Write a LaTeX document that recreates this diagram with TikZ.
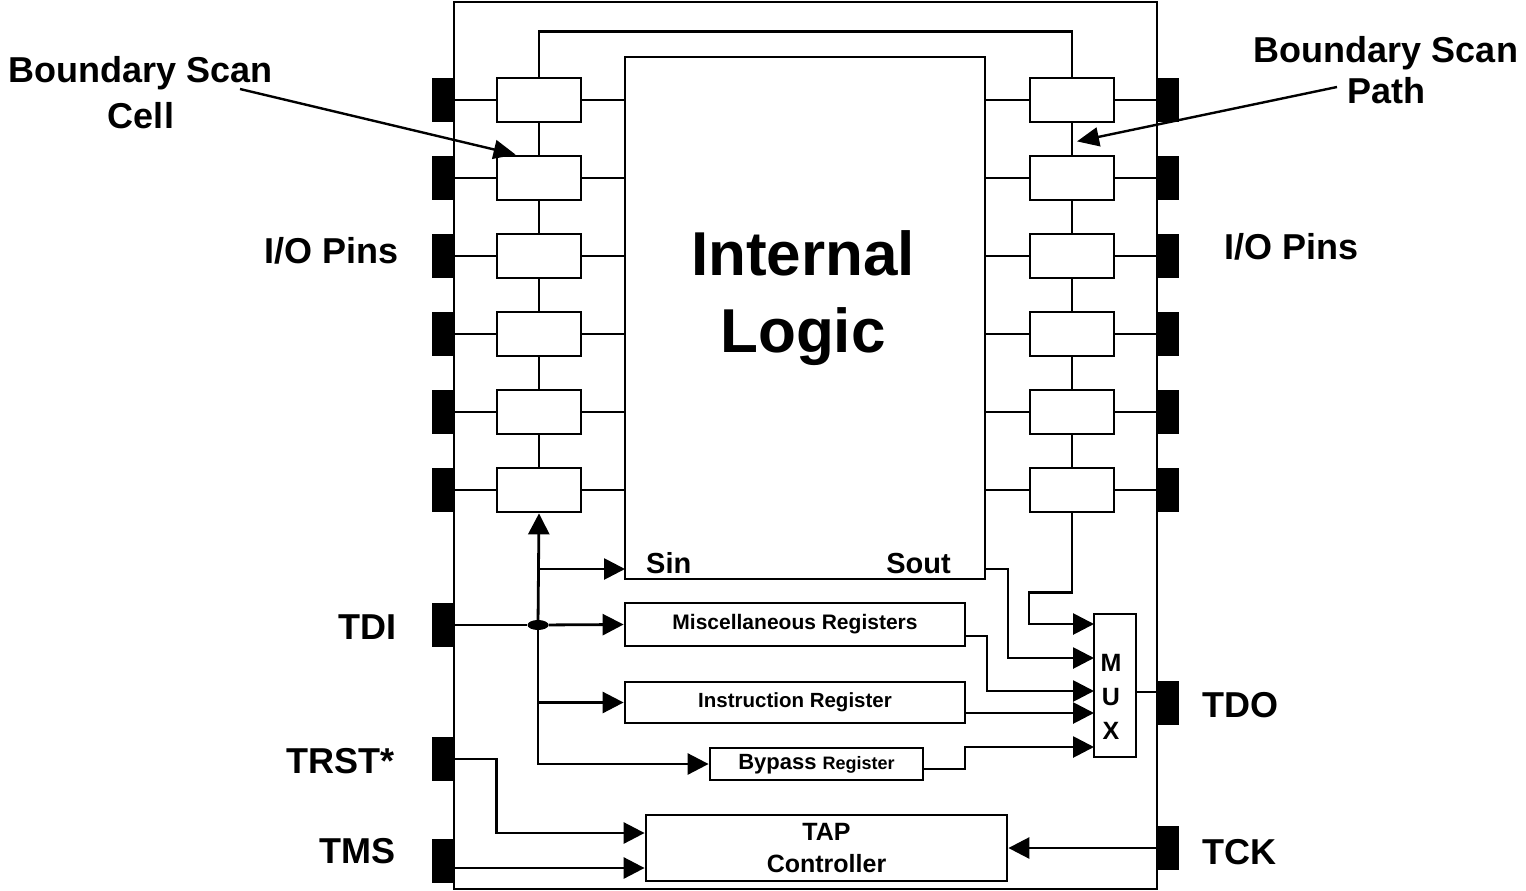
\documentclass[tikz,border=0pt]{standalone}
\usepackage{fontspec}
\setmainfont{Liberation Sans}
\usetikzlibrary{arrows.meta,shapes.geometric,calc}
\tikzset{
  wire/.style={line width=2.8pt},
  arr/.style={wire, -{Triangle[length=21pt,width=21pt]}},
  ptr/.style={line width=2.4pt, -{Triangle[length=22pt,width=19pt]}},
  box/.style={draw=black, line width=2.8pt, fill=white, inner sep=0pt, align=center, font=\bfseries},
  cell/.style={box, minimum width=84pt, minimum height=44pt},
  pin/.style={fill=black, minimum width=22pt, minimum height=44pt, inner sep=0pt},
  reg/.style={box, minimum height=42pt},
  lbl/.style={inner sep=0pt, font=\fontsize{36}{46}\selectfont\bfseries}
}
\begin{document}
\begin{tikzpicture}[x=1pt, y=-1pt]
  \useasboundingbox (0,0) rectangle (1526,891);
  % chip and internal logic
  \node[draw, line width=2.8pt, minimum width=703pt, minimum height=887pt, inner sep=0pt] (chip) at (805.5,445.5) {};
  \node[box, minimum width=360pt, minimum height=522pt] (logic) at (805,318) {};
  \node[inner sep=0pt, align=center, anchor=base, font=\fontsize{62}{77}\selectfont\bfseries] (logictxt) at (803,352) {Internal\\Logic};
  % boundary scan cells and I/O pins
  \foreach \i in {1,...,6}{
    \pgfmathsetmacro\yy{22+78*\i}
    \node[pin] (lp\i) at (443,\yy) {};
    \node[pin] (rp\i) at (1168,\yy) {};
    \node[cell] (lc\i) at (539,\yy) {};
    \node[cell] (rc\i) at (1072,\yy) {};
    \draw[wire] (lp\i.east) -- (lc\i.west);
    \draw[wire] (lc\i.east) -- (lc\i.east -| logic.west);
    \draw[wire] (rc\i.west -| logic.east) -- (rc\i.west);
    \draw[wire] (rc\i.east) -- (rp\i.west);
  }
  \foreach \i/\j in {1/2,2/3,3/4,4/5,5/6}{
    \draw[wire] (lc\i.south) -- (lc\j.north);
    \draw[wire] (rc\i.south) -- (rc\j.north);
  }
  \draw[wire] (lc1.north) -- ++(0,-45) -| (rc1.north);
  % test pins
  \node[pin] (tdi) at (443,625) {};
  \node[pin] (trst) at (443,759) {};
  \node[pin] (tms) at (443,861) {};
  \node[pin] (tdo) at (1168,702.5) {};
  \node[pin] (tck) at (1168,848) {};
  % registers, mux, tap
  \node[reg, minimum width=340pt, minimum height=43pt, font=\fontsize{21}{25}\selectfont\bfseries] (misc) at (795,624.5) {Miscellaneous Registers};
  \node[reg, minimum width=340pt, minimum height=41pt, font=\fontsize{20.5}{25}\selectfont\bfseries] (instr) at (795,702.5) {Instruction Register};
  \node[reg, minimum width=213pt, minimum height=32pt] (bypass) at (816.5,764) {{\fontsize{22}{26}\selectfont Bypass }{\fontsize{18}{22}\selectfont Register}};
  \node[reg, minimum width=361pt, minimum height=66pt, font=\fontsize{25}{32}\selectfont\bfseries] (tap) at (826.5,848) {TAP\\Controller};
  \node[box, minimum width=42pt, minimum height=143pt] (mux) at (1115,685.5) {};
  \node[inner sep=0pt, align=center, font=\fontsize{25}{34}\selectfont\bfseries] (muxlbl) at (1111,697) {M\\U\\X};
  \node[ellipse, fill=black, minimum width=21pt, minimum height=10pt, inner sep=0pt] (split) at (538,625) {};
  \coordinate (sin) at (625,569);
  \coordinate (sout) at (985,569);
  \coordinate (m1) at (1094,624);
  \coordinate (m2) at (1094,658);
  \coordinate (m3) at (1094,691);
  \coordinate (m4) at (1094,713);
  \coordinate (m5) at (1094,747);
  % TDI fan-out
  \draw[wire] (tdi.east) -- (split);
  \draw[arr] (split) -- (misc.west);
  \draw[arr] (split) -- (lc6.south);
  \draw[arr] (split |- sin) -- (sin);
  \draw[arr] (split |- instr.west) -- (instr.west);
  \draw[arr] (split) |- (bypass.west);
  % into the mux
  \draw[arr] (rc6.south) -- ++(0,79) -| ([xshift=-65pt]m1) -- (m1);
  \draw[arr] (sout) -| ([xshift=-86pt]m2) -- (m2);
  \draw[arr] ([yshift=-11.5pt]misc.east) -| ([xshift=-107pt]m3) -- (m3);
  \draw[arr] ([yshift=-10.5pt]instr.east) -- (m4);
  \draw[arr] ([yshift=-5pt]bypass.east) -| ([xshift=-129pt]m5) -- (m5);
  \draw[wire] ([yshift=-6.5pt]mux.east) -- ([yshift=-6.5pt]mux.east -| tdo.west);
  % tap controller inputs
  \draw[arr] (tck.west) -- (tap.east);
  \draw[arr] (trst.east) -- ++(42,0) |- ([yshift=15pt]tap.west);
  \draw[arr] ([yshift=-7pt]tms.east) -- ([yshift=-20pt]tap.west);
  % labels
  \node[lbl, anchor=base, align=center] (cellname) at (141,128) {Boundary Scan\\Cell};
  \node[lbl, anchor=base, align=center, font=\fontsize{36}{41}\selectfont\bfseries] (pathname) at (1386,103) {Boundary Scan\\Path};
  \coordinate (cellptr) at (240,89);
  \coordinate (pathptr) at (1337,87);
  \draw[ptr] (cellptr) -- ([xshift=20pt]lc2.north west);
  \draw[ptr] (pathptr) -- ([xshift=5pt,yshift=-18pt]rc1.south);
  \node[lbl, anchor=base east] (iol) at (399,263) {I/O Pins};
  \node[lbl, anchor=base west] (ior) at (1224,259) {I/O Pins};
  \node[lbl, anchor=east] (tdilbl) at (397,627) {TDI};
  \node[lbl, anchor=east] (trstlbl) at (395,761) {TRST*};
  \node[lbl, anchor=east] (tmslbl) at (396,851) {TMS};
  \node[lbl, anchor=west] (tdolbl) at (1202,705) {TDO};
  \node[lbl, anchor=west] (tcklbl) at (1202,852) {TCK};
  \node[inner sep=0pt, anchor=base west, font=\fontsize{29}{34}\selectfont\bfseries] (sinlbl) at (646,573) {Sin};
  \node[inner sep=0pt, anchor=base east, font=\fontsize{29}{34}\selectfont\bfseries] (soutlbl) at (951,573) {Sout};
\end{tikzpicture}
\end{document}
